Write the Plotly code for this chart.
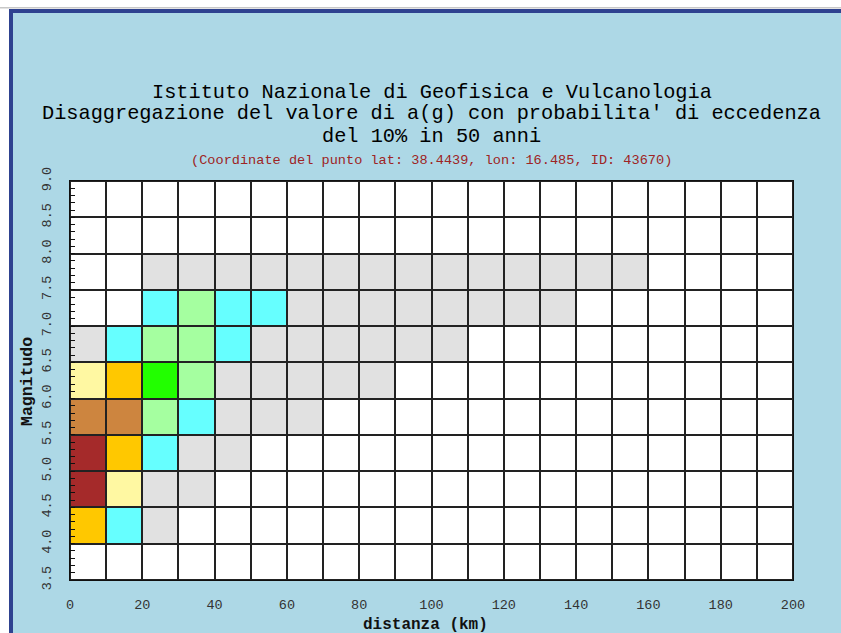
import plotly.graph_objects as go

# ---------------- data ----------------
distanza_edges = [0, 10, 20, 30, 40, 50, 60, 70, 80, 90, 100, 110, 120, 130, 140, 150, 160, 170, 180, 190, 200]
magnitudo_edges = [3.5, 4.0, 4.5, 5.0, 5.5, 6.0, 6.5, 7.0, 7.5, 8.0, 8.5, 9.0]

# contribution class per cell (0 = none ... 8 = highest), rows from M 3.5-4.0 upwards
row_35_40 = []
row_40_45 = [6, 2, 1]
row_45_50 = [8, 5, 1, 1]
row_50_55 = [8, 6, 2, 1, 1]
row_55_60 = [7, 7, 3, 2, 1, 1, 1]
row_60_65 = [5, 6, 4, 3, 1, 1, 1, 1, 1]
row_65_70 = [1, 2, 3, 3, 2, 1, 1, 1, 1, 1, 1]
row_70_75 = [0, 0, 2, 3, 2, 2, 1, 1, 1, 1, 1, 1, 1, 1]
row_75_80 = [0, 0, 1, 1, 1, 1, 1, 1, 1, 1, 1, 1, 1, 1, 1, 1]
row_80_85 = []
row_85_90 = []

class_colors = ["#FFFFFF", "#E1E1E1", "#66FFFF", "#A5FFA0", "#22FF00",
                "#FFF8A2", "#FFC800", "#CD853F", "#A52A2A"]

title_lines = ["Istituto Nazionale di Geofisica e Vulcanologia",
               "Disaggregazione del valore di a(g) con probabilita' di eccedenza",
               "del 10% in 50 anni"]
subtitle = "(Coordinate del punto lat: 38.4439, lon: 16.485, ID: 43670)"

# ---------------- build ----------------
ncols = len(distanza_edges) - 1
rows = [row_35_40, row_40_45, row_45_50, row_50_55, row_55_60, row_60_65,
        row_65_70, row_70_75, row_75_80, row_80_85, row_85_90]
z = [r + [0] * (ncols - len(r)) for r in rows]

n = len(class_colors)
colorscale = []
for i, c in enumerate(class_colors):
    colorscale.append([i / n, c])
    colorscale.append([(i + 1) / n, c])

W, H = 841, 633
L, R, T, B = 70, 793, 181, 580

def px(x):
    return (x - L) / (R - L)

def py(y):
    return (B - y) / (B - T)

MONO = "Liberation Mono, DejaVu Sans Mono, monospace"

fig = go.Figure(go.Heatmap(
    x=distanza_edges, y=magnitudo_edges, z=z,
    colorscale=colorscale, zmin=-0.5, zmax=n - 0.5,
    showscale=False, xgap=2, ygap=2, hoverinfo="skip",
))

fig.update_layout(
    width=W, height=H,
    margin=dict(l=L, r=W - R, t=T, b=H - B, pad=0),
    paper_bgcolor="#ADD8E6",
    plot_bgcolor="#222222",
    showlegend=False,
    font=dict(family=MONO, color="#222222"),
)

fig.update_xaxes(
    range=[0, 200], tick0=0, dtick=20, showgrid=False, zeroline=False,
    showline=True, mirror=True, linecolor="#111111", linewidth=1,
    ticks="", tickfont=dict(family=MONO, size=13.5, color="#333333"),
    ticklabelstandoff=12,
)
fig.update_yaxes(
    range=[3.5, 9.0], tick0=3.5, dtick=0.5, tickformat=".1f", tickangle=-90,
    showgrid=False, zeroline=False,
    showline=True, mirror=True, linecolor="#111111", linewidth=1,
    ticks="inside", ticklen=5, tickcolor="#111111",
    minor=dict(tick0=3.5, dtick=0.1, ticks="inside", ticklen=5, tickcolor="#111111", tickwidth=1, showgrid=False),
    tickfont=dict(family=MONO, size=13.5, color="#333333"),
    ticklabelstandoff=13,
)

anns = []
for text, yc in zip(title_lines, [92, 114, 136]):
    anns.append(dict(text=text, x=px(431.5), y=py(yc), xref="paper", yref="paper",
                     xanchor="center", yanchor="middle", showarrow=False,
                     font=dict(family=MONO, size=20.3, color="#000000")))
anns.append(dict(text=subtitle, x=px(431.5), y=py(160), xref="paper", yref="paper",
                 xanchor="center", yanchor="middle", showarrow=False,
                 font=dict(family=MONO, size=13.6, color="#9E2424")))
anns.append(dict(text="<b>distanza (km)</b>", x=px(425), y=py(625), xref="paper", yref="paper",
                 xanchor="center", yanchor="middle", showarrow=False,
                 font=dict(family=MONO, size=16, color="#111111")))
anns.append(dict(text="<b>Magnitudo</b>", x=px(27), y=py(382), xref="paper", yref="paper",
                 xanchor="center", yanchor="middle", showarrow=False, textangle=-90,
                 font=dict(family=MONO, size=16.5, color="#111111")))
fig.update_layout(annotations=anns)

# page frame (white strips + dark blue border)
shapes = [
    dict(type="rect", xref="paper", yref="paper", x0=px(0), x1=px(W), y0=py(0), y1=py(9),
         fillcolor="#FFFFFF", line=dict(width=0), layer="above"),
    dict(type="rect", xref="paper", yref="paper", x0=px(0), x1=px(9), y0=py(0), y1=py(H),
         fillcolor="#FFFFFF", line=dict(width=0), layer="above"),
    dict(type="rect", xref="paper", yref="paper", x0=px(0), x1=px(W), y0=py(7), y1=py(8.5),
         fillcolor="#C8C8C8", line=dict(width=0), layer="above"),
    dict(type="rect", xref="paper", yref="paper", x0=px(9), x1=px(W), y0=py(9), y1=py(13),
         fillcolor="#2E4290", line=dict(width=0), layer="above"),
    dict(type="rect", xref="paper", yref="paper", x0=px(9), x1=px(13), y0=py(9), y1=py(H),
         fillcolor="#2E4290", line=dict(width=0), layer="above"),
]
fig.update_layout(shapes=shapes)

fig.write_html("out.html", config={"displayModeBar": False},
               post_script="document.body.style.margin='0';document.body.style.overflow='hidden';")
